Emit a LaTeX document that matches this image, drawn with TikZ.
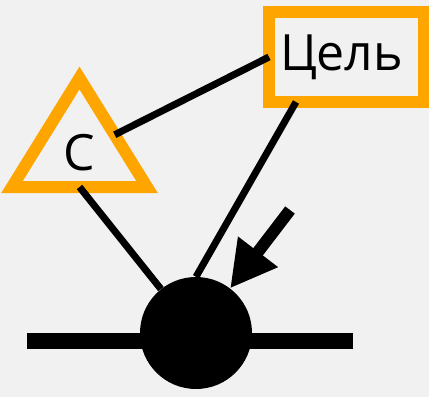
\documentclass[tikz,border=0pt]{standalone}
\usepackage{fontspec}
\setmainfont{Open Sans}
\usetikzlibrary{arrows.meta, shapes.geometric}
\definecolor{signorange}{RGB}{255,165,0}
\definecolor{paper}{RGB}{241,241,241}

\begin{document}
\begin{tikzpicture}[x=1pt, y=-1pt,
  link/.style={line width=7pt},
  pipe/.style={line width=16pt},
  pointer/.style={line width=12pt, -{Triangle[length=46pt, width=47pt]}},
  goalbox/.style={draw=signorange, line width=12pt, minimum width=155pt, minimum height=90pt,
    outer sep=0pt, inner xsep=0pt, text width=133pt, align=left, font=\fontsize{50}{60}\selectfont},
  markertri/.style={isosceles triangle, shape border rotate=90, isosceles triangle stretches,
    minimum width=135pt, minimum height=109pt, draw=signorange, line width=12pt,
    outer sep=0pt, inner sep=0pt, font=\fontsize{50}{60}\selectfont},
  junction/.style={circle, fill=black, minimum size=112pt, inner sep=0pt}]
\fill[paper] (0,0) rectangle (429,397);
\useasboundingbox (0,0) rectangle (429,397);

\coordinate (pipeL) at (27,341);
\coordinate (pipeR) at (353,341);
\coordinate (hint) at (290,210);

\node[goalbox] (goal) at (346.5,57) {Цель};
\node[markertri, anchor=lower side] (tri) at (79.5,187) {С};
\node[junction] (dot) at (196,333) {};

\draw[pipe] (pipeL) -- (pipeR);
\draw[link] (tri) -- (goal.west);
\draw[link] (tri.lower side) -- (dot);
\draw[link] ([xshift=27pt]goal.south west) -- (dot.north);
\draw[pointer] (hint) -- (dot);
\end{tikzpicture}
\end{document}
